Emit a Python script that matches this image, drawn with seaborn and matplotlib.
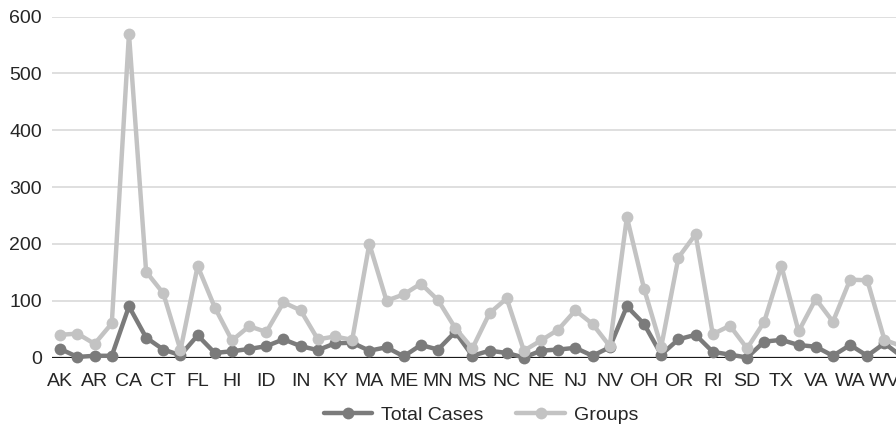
import matplotlib
matplotlib.use("Agg")
import matplotlib.pyplot as plt
import seaborn as sns
import pandas as pd

# data
states = ["AK", "AL", "AR", "AZ", "CA", "CO", "CT", "DE", "FL", "GA",
          "HI", "IA", "ID", "IL", "IN", "KS", "KY", "LA", "MA", "MD",
          "ME", "MI", "MN", "MO", "MS", "MT", "NC", "ND", "NE", "NH",
          "NJ", "NM", "NV", "NY", "OH", "OK", "OR", "PA", "RI", "SC",
          "SD", "TN", "TX", "UT", "VA", "VT", "WA", "WI", "WV", "WY"]
total_cases = [15, 1, 3, 3, 90, 35, 14, 4, 39, 8,
               11, 15, 20, 32, 20, 13, 25, 26, 12, 18,
               2, 22, 14, 45, 3, 12, 8, 0, 12, 14,
               17, 3, 18, 90, 59, 5, 32, 40, 10, 5,
               0, 28, 31, 22, 19, 3, 22, 3, 25, 2]
groups = [40, 42, 24, 60, 570, 151, 113, 13, 161, 88,
          30, 55, 45, 97, 83, 32, 37, 31, 200, 100,
          111, 130, 101, 52, 16, 78, 104, 12, 30, 49,
          83, 59, 20, 247, 121, 19, 176, 217, 41, 56,
          16, 63, 161, 46, 103, 63, 137, 136, 31, 20]
series_names = ["Total Cases", "Groups"]
series_colors = ["#7b7b7b", "#c3c3c3"]

df = pd.DataFrame({"idx": range(len(states)), "Total Cases": total_cases, "Groups": groups})
long_df = df.melt(id_vars="idx", var_name="series", value_name="value")

sns.set_theme(style="white")
plt.rcParams['font.family'] = ['Liberation Sans', 'DejaVu Sans']

fig = plt.figure(figsize=(8.96, 4.28), dpi=100)
# axes runs a bit past the right edge, like the cropped original
ax = fig.add_axes([51.7 / 896, 70.5 / 428, 858.5 / 896, 340.8 / 428])

sns.lineplot(data=long_df, x="idx", y="value", hue="series", hue_order=series_names,
             palette=series_colors, marker="o", markersize=8.5, markeredgewidth=0,
             linewidth=3.2, ax=ax, clip_on=False, zorder=3)

ax.set_xlim(-0.5, len(states) - 0.5)
ax.set_ylim(0, 600)
ax.set_yticks(range(0, 601, 100))
ax.set_xticks(range(0, len(states), 2))
ax.set_xticklabels(states[::2])
ax.yaxis.grid(True, color="#d9d9d9", linewidth=1.2)
ax.set_axisbelow(True)
ax.axhline(0, color="#1a1a1a", linewidth=1.6, zorder=2)
for s in ax.spines.values():
    s.set_visible(False)
ax.tick_params(axis="x", length=0, pad=11, labelsize=14, labelcolor="#262626")
ax.tick_params(axis="y", length=0, pad=7, labelsize=14, labelcolor="#262626")
ax.set_xlabel("")
ax.set_ylabel("")

ax.legend(loc="center", bbox_to_anchor=(0.5, -0.17), ncol=2, frameon=False,
          fontsize=14, handlelength=2.5, handletextpad=0.45, columnspacing=1.7,
          labelcolor="#262626")

fig.savefig("out.png", dpi=100)
